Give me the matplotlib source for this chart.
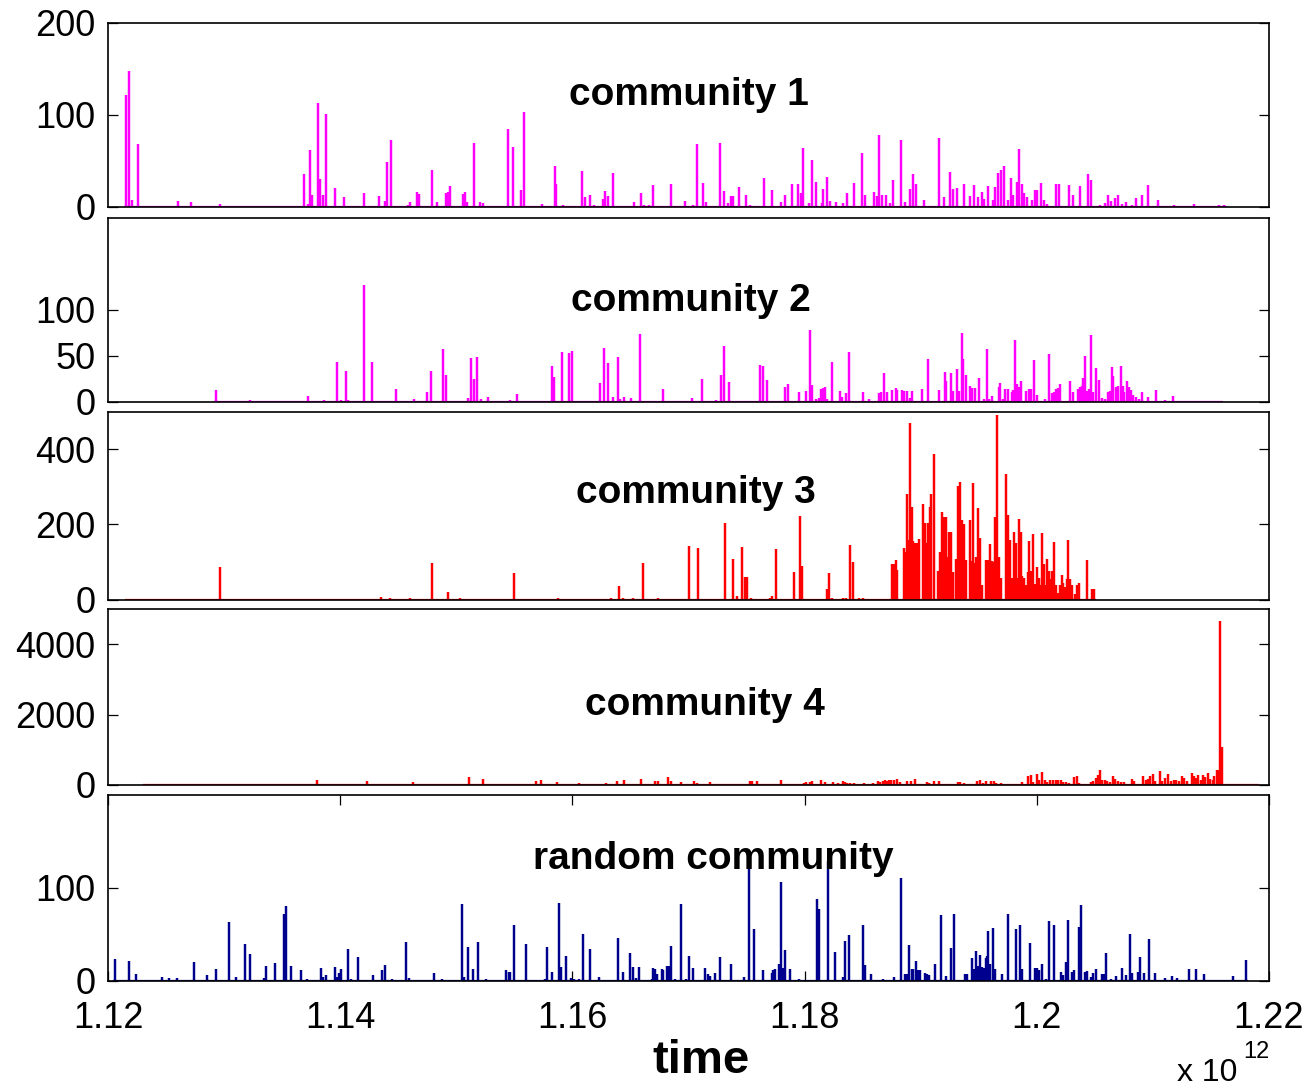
import matplotlib
matplotlib.use("Agg")
import matplotlib.pyplot as plt

# ---------------- data (time in units of 1e12, counts) ----------------
c1_span = (1.12144, 1.21628)
c1_spikes = [
    (1.12154, 122), (1.12177, 148), (1.12203, 7), (1.12259, 68), (1.12602, 6), (1.12714, 5),
    (1.12770, 1), (1.12961, 3), (1.13689, 35), (1.13722, 3), (1.13741, 62), (1.13761, 13),
    (1.13810, 113), (1.13827, 30), (1.13850, 12), (1.13880, 101), (1.13955, 20), (1.14031, 10),
    (1.14071, 1), (1.14209, 15), (1.14262, 1), (1.14334, 11), (1.14384, 6), (1.14403, 48),
    (1.14436, 73), (1.14581, 2), (1.14601, 5), (1.14660, 16), (1.14680, 14), (1.14789, 40),
    (1.14838, 5), (1.14913, 15), (1.14927, 16), (1.14943, 22), (1.15019, 1), (1.15055, 14),
    (1.15072, 16), (1.15092, 5), (1.15151, 69), (1.15201, 5), (1.15227, 4), (1.15441, 84),
    (1.15487, 65), (1.15556, 18), (1.15582, 103), (1.15684, 1), (1.15734, 3), (1.15846, 44),
    (1.15859, 24), (1.15918, 2), (1.15971, 1), (1.16086, 39), (1.16109, 10), (1.16155, 13),
    (1.16189, 2), (1.16238, 1), (1.16264, 8), (1.16277, 17), (1.16304, 11), (1.16353, 37),
    (1.16534, 5), (1.16587, 15), (1.16617, 2), (1.16660, 2), (1.16692, 23), (1.16749, 1),
    (1.16850, 24), (1.16969, 6), (1.17035, 2), (1.17071, 68), (1.17126, 26), (1.17149, 5),
    (1.17274, 69), (1.17304, 17), (1.17337, 4), (1.17370, 11), (1.17386, 11), (1.17436, 21),
    (1.17495, 12), (1.17528, 2), (1.17650, 31), (1.17719, 18), (1.17798, 5), (1.17831, 12),
    (1.17893, 25), (1.17940, 25), (1.17966, 15), (1.17982, 64), (1.18038, 4), (1.18064, 51),
    (1.18097, 27), (1.18147, 4), (1.18160, 19), (1.18193, 32), (1.18220, 6), (1.18269, 5),
    (1.18332, 4), (1.18369, 15), (1.18428, 26), (1.18493, 58), (1.18516, 13), (1.18599, 16),
    (1.18621, 11), (1.18644, 78), (1.18664, 13), (1.18697, 13), (1.18737, 4), (1.18759, 29),
    (1.18829, 73), (1.18862, 5), (1.18908, 19), (1.18937, 35), (1.18960, 24), (1.19026, 7),
    (1.19158, 75), (1.19201, 10), (1.19253, 38), (1.19280, 19), (1.19316, 20), (1.19376, 24),
    (1.19422, 11), (1.19461, 23), (1.19494, 10), (1.19527, 16), (1.19544, 8), (1.19583, 22),
    (1.19620, 7), (1.19642, 21), (1.19668, 37), (1.19691, 40), (1.19718, 44), (1.19751, 7),
    (1.19774, 31), (1.19794, 13), (1.19827, 27), (1.19850, 63), (1.19870, 24), (1.19893, 15),
    (1.19916, 10), (1.19955, 7), (1.19982, 18), (1.20002, 18), (1.20035, 26), (1.20058, 7),
    (1.20091, 3), (1.20163, 24), (1.20193, 25), (1.20275, 23), (1.20312, 12), (1.20374, 22),
    (1.20440, 35), (1.20466, 29), (1.20542, 2), (1.20591, 4), (1.20617, 13), (1.20640, 6),
    (1.20673, 9), (1.20700, 12), (1.20736, 3), (1.20772, 5), (1.20822, 2), (1.20855, 9),
    (1.20904, 13), (1.20960, 23), (1.21046, 7), (1.21178, 2), (1.21358, 3), (1.21572, 2),
    (1.21612, 2),
]

c2_span = (1.12921, 1.21596)
c2_spikes = [
    (1.12928, 13), (1.13224, 2), (1.13725, 6), (1.13857, 2), (1.13975, 43), (1.14005, 2),
    (1.14048, 33), (1.14067, 2), (1.14202, 127), (1.14272, 43), (1.14479, 14), (1.14634, 3),
    (1.14746, 10), (1.14782, 33), (1.14887, 57), (1.14914, 29), (1.15101, 4), (1.15128, 47),
    (1.15154, 25), (1.15174, 48), (1.15217, 3), (1.15273, 5), (1.15464, 2), (1.15523, 8),
    (1.15826, 39), (1.15839, 27), (1.15912, 54), (1.15971, 53), (1.15997, 55), (1.16238, 20),
    (1.16274, 58), (1.16310, 42), (1.16353, 5), (1.16390, 48), (1.16413, 3), (1.16445, 5),
    (1.16508, 4), (1.16580, 73), (1.16778, 14), (1.16979, 1), (1.17032, 4), (1.17116, 25),
    (1.17235, 2), (1.17278, 29), (1.17304, 61), (1.17350, 21), (1.17436, 1), (1.17613, 40),
    (1.17643, 39), (1.17673, 24), (1.17834, 16), (1.17854, 19), (1.17956, 10), (1.18016, 12),
    (1.18045, 78), (1.18062, 18), (1.18098, 3), (1.18121, 4), (1.18144, 14), (1.18157, 15),
    (1.18173, 16), (1.18197, 3), (1.18236, 43), (1.18302, 12), (1.18325, 5), (1.18358, 9),
    (1.18382, 54), (1.18506, 11), (1.18556, 3), (1.18602, 1), (1.18638, 9), (1.18655, 11),
    (1.18688, 31), (1.18711, 11), (1.18753, 13), (1.18786, 15), (1.18800, 13), (1.18836, 13),
    (1.18852, 12), (1.18882, 12), (1.18908, 4), (1.18928, 12), (1.19014, 14), (1.19059, 46),
    (1.19155, 13), (1.19208, 32), (1.19221, 22), (1.19261, 31), (1.19280, 12), (1.19316, 36),
    (1.19333, 12), (1.19352, 75), (1.19366, 46), (1.19389, 29), (1.19422, 17), (1.19445, 15),
    (1.19465, 15), (1.19504, 26), (1.19544, 3), (1.19570, 57), (1.19586, 3), (1.19613, 6),
    (1.19672, 16), (1.19685, 20), (1.19708, 3), (1.19728, 14), (1.19751, 14), (1.19784, 11),
    (1.19794, 13), (1.19810, 67), (1.19830, 19), (1.19843, 16), (1.19863, 22), (1.19906, 12),
    (1.19932, 14), (1.19949, 14), (1.19975, 45), (1.19998, 7), (1.20074, 3), (1.20107, 52),
    (1.20130, 9), (1.20147, 11), (1.20163, 14), (1.20180, 15), (1.20200, 19), (1.20288, 22),
    (1.20312, 10), (1.20351, 14), (1.20371, 16), (1.20388, 17), (1.20397, 26), (1.20411, 50),
    (1.20430, 12), (1.20450, 14), (1.20466, 72), (1.20486, 10), (1.20509, 37), (1.20532, 24),
    (1.20565, 4), (1.20588, 3), (1.20617, 11), (1.20631, 12), (1.20644, 38), (1.20660, 28),
    (1.20683, 16), (1.20703, 17), (1.20723, 39), (1.20739, 17), (1.20752, 10), (1.20779, 22),
    (1.20795, 16), (1.20815, 13), (1.20832, 7), (1.20855, 5), (1.20878, 3), (1.20904, 10),
    (1.20957, 5), (1.21026, 13), (1.21101, 2), (1.21174, 6),
]

c3_span = (1.12157, 1.20500)
c3_spikes = [
    (1.12631, 2), (1.12713, 2), (1.12961, 86), (1.13027, 2), (1.14354, 6), (1.14433, 3),
    (1.14602, 5), (1.14648, 2), (1.14789, 98), (1.14838, 2), (1.14927, 21), (1.15029, 3),
    (1.15457, 2), (1.15497, 70), (1.15879, 5), (1.15984, 2), (1.16073, 2), (1.16333, 5),
    (1.16405, 37), (1.16438, 4), (1.16520, 3), (1.16607, 97), (1.16741, 3), (1.16781, 2),
    (1.16900, 2), (1.17005, 142), (1.17085, 138), (1.17116, 2), (1.17175, 2), (1.17314, 205),
    (1.17347, 2), (1.17379, 109), (1.17419, 8), (1.17462, 139), (1.17485, 60), (1.17501, 59),
    (1.17538, 4), (1.17699, 5), (1.17716, 10), (1.17755, 134), (1.17913, 74), (1.17959, 222),
    (1.17979, 90), (1.18094, 2), (1.18137, 2), (1.18193, 29), (1.18213, 71), (1.18236, 4),
    (1.18335, 3), (1.18358, 3), (1.18391, 146), (1.18414, 99), (1.18467, 4), (1.18500, 3),
    (1.18753, 94), (1.18766, 94), (1.18783, 104), (1.18799, 78), (1.18855, 138), (1.18868, 127),
    (1.18881, 280), (1.18895, 158), (1.18908, 471), (1.18921, 246), (1.18937, 157), (1.18954, 151),
    (1.18967, 151), (1.18983, 161), (1.19020, 254), (1.19036, 205), (1.19053, 150), (1.19063, 205),
    (1.19079, 245), (1.19092, 282), (1.19115, 388), (1.19152, 75), (1.19168, 126), (1.19181, 232),
    (1.19198, 219), (1.19214, 220), (1.19231, 113), (1.19247, 180), (1.19264, 180), (1.19277, 73),
    (1.19306, 108), (1.19323, 302), (1.19339, 314), (1.19356, 212), (1.19372, 202), (1.19386, 104),
    (1.19422, 212), (1.19438, 102), (1.19448, 310), (1.19461, 98), (1.19478, 113), (1.19494, 243),
    (1.19514, 164), (1.19531, 39), (1.19560, 105), (1.19577, 104), (1.19593, 147), (1.19610, 102),
    (1.19626, 99), (1.19642, 220), (1.19655, 490), (1.19672, 113), (1.19689, 58), (1.19735, 334),
    (1.19751, 225), (1.19768, 158), (1.19784, 57), (1.19801, 179), (1.19817, 150), (1.19834, 58),
    (1.19850, 214), (1.19863, 180), (1.19876, 62), (1.19893, 57), (1.19909, 39), (1.19922, 73),
    (1.19935, 155), (1.19949, 75), (1.19965, 174), (1.19982, 41), (1.19998, 87), (1.20015, 58),
    (1.20028, 38), (1.20045, 176), (1.20058, 95), (1.20074, 39), (1.20088, 109), (1.20104, 77),
    (1.20121, 55), (1.20134, 76), (1.20150, 152), (1.20167, 39), (1.20184, 18), (1.20200, 39),
    (1.20213, 66), (1.20226, 45), (1.20240, 33), (1.20256, 55), (1.20272, 158), (1.20289, 55),
    (1.20305, 38), (1.20325, 15), (1.20345, 38), (1.20361, 44), (1.20429, 104), (1.20475, 29),
    (1.20492, 29),
]

c4_span = (1.12312, 1.21906)
c4_spikes = [
    (1.12325, 38), (1.13800, 133), (1.14230, 114), (1.14624, 76), (1.15003, 29), (1.15111, 238),
    (1.15233, 171), (1.15684, 105), (1.15727, 152), (1.15869, 95), (1.16060, 57), (1.16287, 57),
    (1.16386, 124), (1.16445, 133), (1.16590, 162), (1.16715, 105), (1.16735, 114), (1.16827, 228),
    (1.16847, 114), (1.16939, 76), (1.17051, 114), (1.17077, 57), (1.17182, 76), (1.17528, 124),
    (1.17544, 124), (1.17594, 105), (1.17795, 133), (1.17996, 67), (1.18016, 76), (1.18048, 86),
    (1.18065, 105), (1.18104, 38), (1.18144, 152), (1.18173, 76), (1.18246, 95), (1.18269, 38),
    (1.18289, 57), (1.18328, 105), (1.18345, 76), (1.18368, 48), (1.18394, 48), (1.18427, 48),
    (1.18467, 38), (1.18510, 67), (1.18539, 38), (1.18589, 57), (1.18631, 105), (1.18651, 95),
    (1.18678, 124), (1.18694, 143), (1.18714, 105), (1.18731, 133), (1.18747, 143), (1.18773, 152),
    (1.18800, 181), (1.18820, 86), (1.18878, 114), (1.18914, 114), (1.18951, 162), (1.19053, 76),
    (1.19073, 57), (1.19112, 124), (1.19158, 114), (1.19317, 86), (1.19340, 95), (1.19373, 57),
    (1.19481, 114), (1.19508, 143), (1.19537, 48), (1.19560, 114), (1.19606, 105), (1.19629, 124),
    (1.19652, 48), (1.19695, 48), (1.19876, 95), (1.19925, 248), (1.19948, 276), (1.19971, 95),
    (1.19998, 314), (1.20021, 133), (1.20047, 362), (1.20070, 133), (1.20090, 95), (1.20113, 143),
    (1.20140, 143), (1.20163, 133), (1.20186, 152), (1.20205, 133), (1.20228, 95), (1.20255, 95),
    (1.20278, 67), (1.20321, 238), (1.20344, 257), (1.20367, 67), (1.20384, 38), (1.20470, 95),
    (1.20486, 114), (1.20509, 210), (1.20525, 295), (1.20542, 428), (1.20565, 133), (1.20585, 133),
    (1.20608, 114), (1.20634, 95), (1.20660, 257), (1.20673, 162), (1.20699, 114), (1.20723, 86),
    (1.20749, 95), (1.20822, 171), (1.20838, 114), (1.20914, 257), (1.20937, 133), (1.20957, 181),
    (1.20977, 257), (1.20997, 314), (1.21020, 114), (1.21062, 390), (1.21082, 114), (1.21101, 190),
    (1.21134, 305), (1.21157, 114), (1.21184, 143), (1.21200, 152), (1.21227, 114), (1.21250, 248),
    (1.21267, 210), (1.21290, 114), (1.21333, 333), (1.21352, 257), (1.21372, 210), (1.21392, 295),
    (1.21415, 133), (1.21432, 286), (1.21448, 238), (1.21471, 343), (1.21491, 181), (1.21514, 133),
    (1.21530, 257), (1.21550, 428), (1.21563, 428), (1.21576, 4665), (1.21596, 1085), (1.21892, 38),
]

rnd_span = (1.12055, 1.21809)
rnd_spikes = [
    (1.12062, 23), (1.12177, 21), (1.12240, 7), (1.12467, 4), (1.12526, 3), (1.12598, 3),
    (1.12737, 20), (1.12852, 6), (1.12928, 12), (1.13046, 63), (1.13106, 4), (1.13181, 39),
    (1.13221, 29), (1.13340, 3), (1.13360, 16), (1.13438, 19), (1.13520, 72), (1.13537, 80),
    (1.13573, 16), (1.13662, 11), (1.13718, 2), (1.13834, 14), (1.13853, 4), (1.13876, 6),
    (1.13952, 15), (1.13972, 4), (1.13992, 8), (1.14011, 12), (1.14071, 34), (1.14097, 2),
    (1.14156, 25), (1.14285, 6), (1.14360, 11), (1.14387, 17), (1.14443, 2), (1.14565, 42),
    (1.14594, 3), (1.14812, 8), (1.14878, 2), (1.15045, 82), (1.15066, 4), (1.15102, 36),
    (1.15141, 12), (1.15184, 41), (1.15256, 2), (1.15427, 11), (1.15450, 9), (1.15466, 9),
    (1.15493, 60), (1.15602, 39), (1.15767, 2), (1.15777, 36), (1.15826, 9), (1.15885, 84),
    (1.15902, 15), (1.15945, 26), (1.15991, 3), (1.16017, 2), (1.16057, 2), (1.16090, 50),
    (1.16150, 34), (1.16228, 4), (1.16393, 46), (1.16435, 9), (1.16498, 30), (1.16524, 15),
    (1.16544, 3), (1.16574, 15), (1.16682, 2), (1.16696, 14), (1.16715, 12), (1.16732, 7),
    (1.16771, 12), (1.16781, 11), (1.16814, 16), (1.16834, 16), (1.16851, 37), (1.16880, 2),
    (1.16933, 83), (1.16979, 2), (1.17005, 26), (1.17035, 13), (1.17139, 13), (1.17165, 7),
    (1.17182, 5), (1.17228, 8), (1.17271, 25), (1.17370, 18), (1.17478, 4), (1.17518, 124),
    (1.17561, 56), (1.17644, 11), (1.17716, 8), (1.17730, 11), (1.17743, 12), (1.17778, 18),
    (1.17795, 106), (1.17815, 13), (1.17835, 33), (1.17874, 12), (1.17950, 2), (1.18104, 88),
    (1.18127, 77), (1.18203, 129), (1.18262, 31), (1.18328, 4), (1.18348, 43), (1.18381, 49),
    (1.18499, 60), (1.18516, 17), (1.18569, 7), (1.18674, 2), (1.18769, 4), (1.18829, 111),
    (1.18862, 7), (1.18878, 7), (1.18898, 38), (1.18921, 12), (1.18937, 12), (1.18957, 21),
    (1.18973, 11), (1.18993, 11), (1.19033, 8), (1.19053, 7), (1.19073, 6), (1.19126, 18),
    (1.19178, 71), (1.19217, 5), (1.19260, 35), (1.19286, 72), (1.19382, 7), (1.19402, 7),
    (1.19441, 24), (1.19458, 12), (1.19474, 32), (1.19491, 16), (1.19511, 28), (1.19527, 15),
    (1.19544, 14), (1.19560, 24), (1.19570, 26), (1.19583, 53), (1.19600, 18), (1.19623, 57),
    (1.19642, 12), (1.19702, 7), (1.19748, 72), (1.19823, 55), (1.19856, 60), (1.19870, 12),
    (1.19942, 40), (1.19982, 14), (1.20002, 13), (1.20021, 11), (1.20041, 18), (1.20081, 2),
    (1.20107, 64), (1.20146, 60), (1.20212, 9), (1.20229, 6), (1.20255, 20), (1.20268, 65),
    (1.20305, 9), (1.20321, 11), (1.20361, 58), (1.20381, 81), (1.20416, 9), (1.20433, 10),
    (1.20466, 4), (1.20482, 8), (1.20509, 12), (1.20558, 7), (1.20575, 7), (1.20598, 30),
    (1.20641, 2), (1.20684, 5), (1.20733, 14), (1.20772, 6), (1.20802, 50), (1.20822, 8),
    (1.20871, 9), (1.20891, 25), (1.20920, 8), (1.20966, 45), (1.21019, 8), (1.21101, 3),
    (1.21167, 5), (1.21209, 3), (1.21308, 12), (1.21374, 12), (1.21440, 7), (1.21687, 5),
    (1.21803, 22),
]

panel_titles = ["community 1", "community 2", "community 3", "community 4", "random community"]
panel_colors = ["#FF00FF", "#FF00FF", "#FF0000", "#FF0000", "#00008F"]
panel_ylims = [200, 200, 500, 5000, 200]
panel_yticks = [[0, 100, 200], [0, 50, 100], [0, 200, 400], [0, 2000, 4000], [0, 100]]
x_ticks = [1.12, 1.14, 1.16, 1.18, 1.20, 1.22]
x_ticklabels = ["1.12", "1.14", "1.16", "1.18", "1.2", "1.22"]
x_label = "time"
x_exponent = "12"

series = [(c1_span, c1_spikes), (c2_span, c2_spikes), (c3_span, c3_spikes),
          (c4_span, c4_spikes), (rnd_span, rnd_spikes)]

# ---------------- layout ----------------
W, H = 1310, 1087
fig = plt.figure(figsize=(W / 100, H / 100), dpi=100)

tick_font = ["Liberation Sans", "DejaVu Sans"]
bold_font = ["Liberation Sans", "DejaVu Sans"]
tick_size = 26

left_px, right_px = 108, 1269
panel_px = [(23, 206.5), (217.5, 401.7), (411.7, 599.5), (609.3, 785), (795, 980.5)]
title_pos = [(0.500, 0.610), (0.502, 0.545), (0.506, 0.565), (0.514, 0.458), (0.521, 0.655)]

for i, ((span, spikes), (top, bot)) in enumerate(zip(series, panel_px)):
    ax = fig.add_axes([left_px / W, 1 - bot / H, (right_px - left_px) / W, (bot - top) / H])
    xs, ys = [span[0]], [0]
    for t, v in sorted(spikes):
        xs += [t, t, t]
        ys += [0, v, 0]
    xs.append(span[1])
    ys.append(0)
    ax.plot(xs, ys, color=panel_colors[i], lw=1.6, solid_joinstyle="miter")
    ax.set_xlim(1.12, 1.22)
    ax.set_ylim(0, panel_ylims[i])
    ax.set_yticks(panel_yticks[i])
    ax.set_yticklabels([str(v) for v in panel_yticks[i]], fontsize=tick_size, family=tick_font)
    if i < 4:
        ax.set_xticks([])
    else:
        ax.set_xticks(x_ticks)
        ax.set_xticklabels(x_ticklabels, fontsize=tick_size, family=tick_font)
        ax.tick_params(axis="x", pad=15)
    ax.tick_params(axis="y", pad=9)
    ax.tick_params(direction="in", length=7, width=0.9, right=True, top=(i == 4),
                   colors="black")
    for sp in ax.spines.values():
        sp.set_linewidth(1.2)
    tx, ty = title_pos[i]
    ax.text(tx, ty, panel_titles[i], transform=ax.transAxes, ha="center", va="center",
            fontsize=28, fontweight="bold", family=bold_font, zorder=5)

fig.text(701 / W, 1 - 1061 / H, x_label, ha="center", va="center",
         fontsize=34, fontweight="bold", family=bold_font)
fig.text(1177 / W, 1 - 1081 / H, "x 10", ha="left", va="baseline",
         fontsize=23, family=tick_font)
fig.text(1243 / W, 1 - 1058 / H, x_exponent, ha="left", va="baseline",
         fontsize=17, family=tick_font)

fig.savefig("out.png", dpi=100)
